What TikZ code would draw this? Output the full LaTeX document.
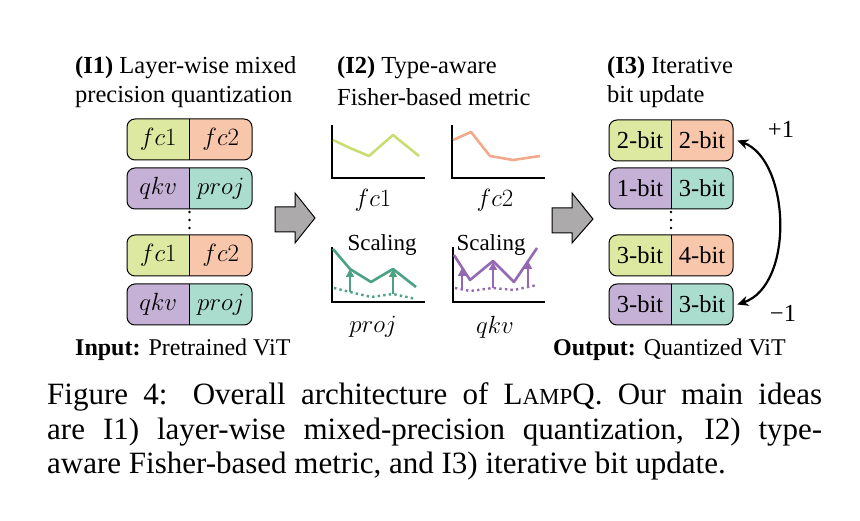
\documentclass[tikz,border=0pt]{standalone}
\usepackage{fontspec}
\setmainfont{Liberation Serif}
\usetikzlibrary{arrows.meta}
\definecolor{cA}{RGB}{221,233,160}
\definecolor{cB}{RGB}{248,198,170}
\definecolor{cC}{RGB}{197,176,214}
\definecolor{cD}{RGB}{170,221,205}
\definecolor{lA}{RGB}{200,222,115}
\definecolor{lB}{RGB}{243,170,140}
\definecolor{lC}{RGB}{75,162,130}
\definecolor{lD}{RGB}{150,104,180}
\definecolor{gArrow}{RGB}{172,170,170}
\newcommand{\lyr}[8]{%
\begin{scope}
\clip[rounded corners=8] (#2,#3) rectangle ++(#8,41);
\fill[#4] (#2,#3) rectangle ++(#8/2,41);
\fill[#5] (#2+#8/2,#3) rectangle ++(#8/2,41);
\end{scope}
\draw[rounded corners=8, line width=1] (#2,#3) rectangle ++(#8,41);
\draw[line width=1] (#2+#8/2,#3) -- ++(0,41);
\node[boxtxt] (#1l) at (#2+#8/4, #3+20.5) {#6};
\node[boxtxt] (#1r) at (#2+3*#8/4, #3+20.5) {#7};
}
\newcommand{\vdts}[1]{%
\fill (#1,212) circle (1.4);
\fill (#1,220) circle (1.4);
\fill (#1,228) circle (1.4);
}
\tikzset{
  boxtxt/.style={inner sep=0pt, font=\fontsize{24.5}{28}\selectfont},
  ttl/.style={anchor=west, inner sep=0pt, font=\fontsize{24.5}{29}\selectfont},
  axis/.style={line width=1.6, black},
  plt/.style={line width=2.6, line join=round},
  dots/.style={line width=2.4, dash pattern=on 2.4 off 3.2},
  scal/.style={line width=1.5, -{Triangle[length=8,width=8]}},
  blk/.style={draw=black, line width=1, fill=gArrow, line join=miter},
  captxt/.style={anchor=base west, inner sep=0pt, font=\fontsize{31}{34}\selectfont}
}
\begin{document}
\begin{tikzpicture}[x=1pt,y=-1pt]
\useasboundingbox (0,0) rectangle (860,521);
% titles
\node[ttl] (t1a) at (75,68) {\textbf{(I1)} Layer-wise mixed};
\node[ttl] (t1b) at (75,97) {precision quantization};
\node[ttl] (t2a) at (337,68) {\textbf{(I2)} Type-aware};
\node[ttl] (t2b) at (337,97) {Fisher-based metric};
\node[ttl] (t3a) at (607,68) {\textbf{(I3)} Iterative};
\node[ttl] (t3b) at (607,97) {bit update};
% left boxes
\lyr{a}{127}{119}{cA}{cB}{$fc1$}{$fc2$}{125}
\lyr{b}{127}{168}{cC}{cD}{$qkv$}{$proj$}{125}
\lyr{c}{127}{235}{cA}{cB}{$fc1$}{$fc2$}{125}
\lyr{d}{127}{284}{cC}{cD}{$qkv$}{$proj$}{125}
\vdts{189.5}
\node[ttl, font=\fontsize{24}{28}\selectfont] (inp) at (75,350) {\textbf{Input:} Pretrained ViT};
% right boxes
\lyr{e}{609}{120}{cA}{cB}{2-bit}{2-bit}{124}
\lyr{f}{609}{168}{cC}{cD}{1-bit}{3-bit}{124}
\lyr{g}{609}{235}{cA}{cB}{3-bit}{4-bit}{124}
\lyr{h}{609}{284}{cC}{cD}{3-bit}{3-bit}{124}
\vdts{671}
\node[ttl, font=\fontsize{24}{28}\selectfont] (outp) at (553,350) {\textbf{Output:} Quantized ViT};
% block arrows
\draw[blk] (275,207) -- (295,207) -- (295,193) -- (315,218) -- (295,243) -- (295,232) -- (275,232) -- cycle;
\draw[blk] (552,208) -- (572,208) -- (572,193) -- (593,219) -- (572,243) -- (572,233) -- (552,233) -- cycle;
% plot fc1
\draw[axis] (332,125) -- (332,178) -- (425,178);
\draw[plt, lA] (333,140) -- (350,148) -- (369,156) -- (393,135) -- (419,156);
\node[boxtxt] (p1) at (373,200) {$fc1$};
% plot fc2
\draw[axis] (452,125) -- (452,178) -- (545,178);
\draw[plt, lB] (453,140) -- (471,132) -- (490,156) -- (513,160) -- (540,156);
\node[boxtxt] (p2) at (495,200) {$fc2$};
% plot proj
\draw[axis] (332,247) -- (332,302) -- (425,302);
\draw[plt, lC] (333,249) -- (350,269) -- (371,282) -- (393,269) -- (416,287);
\draw[dots, lC] (334,288) -- (350,292) -- (371,297) -- (393,294) -- (416,299);
\draw[scal, lC] (350,292) -- (350,269);
\draw[scal, lC] (393,294) -- (393,269);
\node[boxtxt, font=\fontsize{23}{27}\selectfont] (s1) at (382,245) {Scaling};
\node[boxtxt] (p3) at (373,327) {$proj$};
% plot qkv
\draw[axis] (453,247) -- (453,302) -- (545,302);
\draw[plt, lD] (454,255) -- (470,280) -- (493,261) -- (514,282) -- (537,248);
\draw[dots, lD] (455,288) -- (470,291) -- (493,288) -- (514,290) -- (537,285);
\draw[scal, lD] (462,290) -- (462,268);
\draw[scal, lD] (493,288) -- (493,262);
\draw[scal, lD] (528,287) -- (528,261);
\node[boxtxt, font=\fontsize{23}{27}\selectfont] (s2) at (491,245) {Scaling};
\node[boxtxt] (p4) at (495,327) {$qkv$};
% curved arrow
\coordinate (ctop) at ([xshift=12pt]er.east);
\coordinate (cbot) at ([xshift=12pt]hr.east);
\draw[line width=2.2, {Stealth[length=11,width=10]}-{Stealth[length=11,width=10]}] (ctop) .. controls (790,160) and (795,285) .. (cbot);
\node[boxtxt] (plus) at (781,129) {+1};
\node[boxtxt] (minus) at (783,313) {−1};
% caption
\node[captxt] (c1) at (47,405) {\makebox[775pt][s]{Figure 4: Overall architecture of L{\fontsize{23}{26}\selectfont AMP}Q. Our main ideas}};
\node[captxt] (c2) at (47,439) {\makebox[775pt][s]{are I1) layer-wise mixed-precision quantization, I2) type-}};
\node[captxt] (c3) at (47,473) {aware Fisher-based metric, and I3) iterative bit update.};
\end{tikzpicture}
\end{document}
